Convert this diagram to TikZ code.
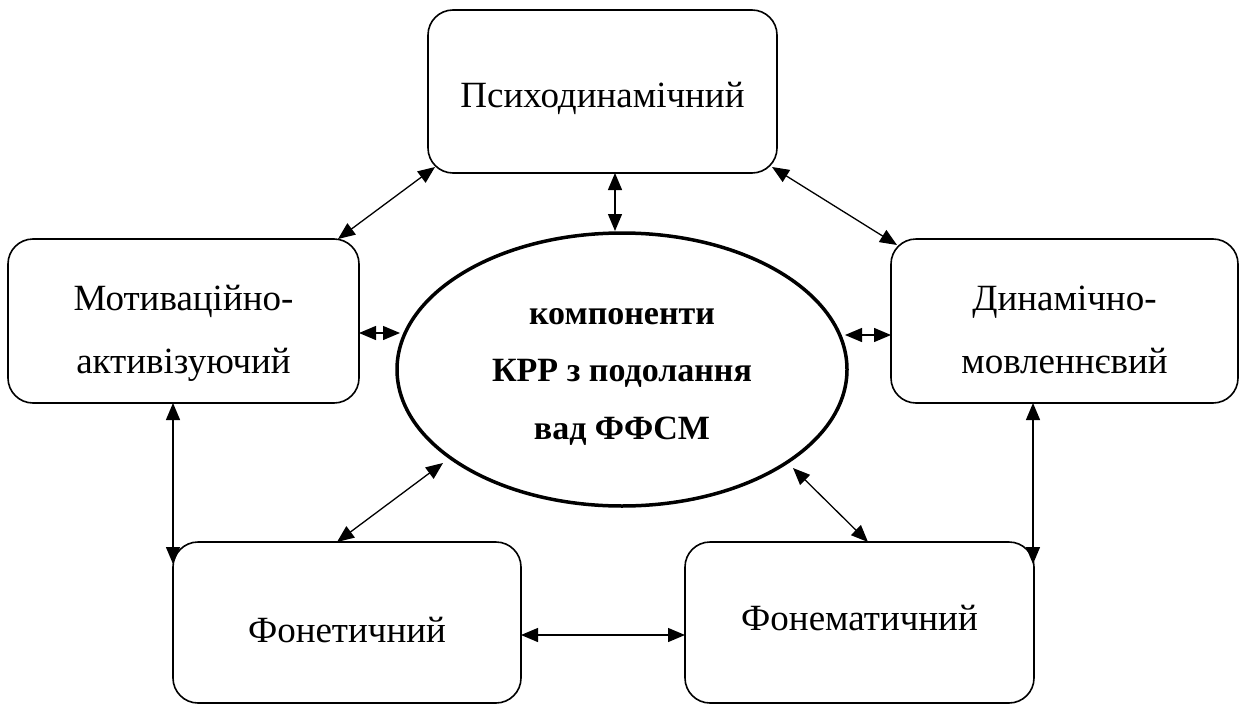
\documentclass[tikz,border=0pt]{standalone}
\usepackage{fontspec}
\setmainfont{Liberation Serif}
\usetikzlibrary{calc,shapes.geometric,arrows.meta}
\tikzset{
  box/.style={draw, line width=1.6pt, rounded corners=25pt, inner sep=0pt, outer sep=0pt,
    font=\fontsize{37}{63}\selectfont, align=center},
  ell/.style={draw, ellipse, line width=3.5pt, inner sep=0pt, outer sep=0pt,
    minimum width=450pt, minimum height=273pt,
    font=\bfseries\fontsize{34}{57.5}\selectfont, align=center},
  link/.style={{Triangle[length=17pt,width=14pt]}-{Triangle[length=17pt,width=14pt]}, line width=1.3pt}
}
\begin{document}
\begin{tikzpicture}[x=1pt,y=-1pt]
\useasboundingbox (0,0) rectangle (1239,704);
\node[box, minimum width=349pt, minimum height=163pt, text height=31pt, text depth=0pt] (top) at (602.5,91.5) {Психодинамічний};
\node[box, minimum width=351pt, minimum height=164pt, text height=104pt, text depth=0pt] (left) at (183.5,321) {Мотиваційно-\\активізуючий};
\node[box, minimum width=347pt, minimum height=164pt, text height=104pt, text depth=0pt] (right) at (1064.5,321) {Динамічно-\\мовленнєвий};
\node[box, minimum width=348pt, minimum height=161pt, text height=39pt, text depth=0pt] (botL) at (347,622.5) {Фонетичний};
\node[box, minimum width=349pt, minimum height=161pt, text height=15pt, text depth=0pt] (botR) at (859.5,622.5) {Фонематичний};
\node[ell, text height=139pt, text depth=0pt] (ell) at (622,369.5) {компоненти\\КРР з подолання\\вад ФФСМ};

\draw[link] ($(top.south west)+(7,-6)$) -- ($(left.north east)+(-21,0)$);
\draw[link] ($(top.south)+(12.5,0)$) -- ($(ell.north)+(-7,-2)$);
\draw[link] ($(top.south east)+(-5,-6)$) -- ($(right.north west)+(6,6)$);
\draw[link] ($(left.east)+(0,12)$) -- ($(ell.center)+(-222,-36.5)$);
\draw[link] ($(ell.center)+(223,-34.5)$) -- ($(right.west)+(0,14)$);
\draw[link] ($(left.south)+(-10.5,0)$) -- ($(botL.north west)+(0,22)$);
\draw[link] ($(ell.center)+(-179,93.5)$) -- ($(botL.north)+(-10,0)$);
\draw[link] ($(ell.center)+(171,98.5)$) -- ($(botR.north)+(8.5,0)$);
\draw[link] ($(right.south)+(-31.5,0)$) -- ($(botR.north east)+(-1,22)$);
\draw[link] ($(botL.east)+(0,12.5)$) -- ($(botR.west)+(0,12.5)$);
\end{tikzpicture}
\end{document}
